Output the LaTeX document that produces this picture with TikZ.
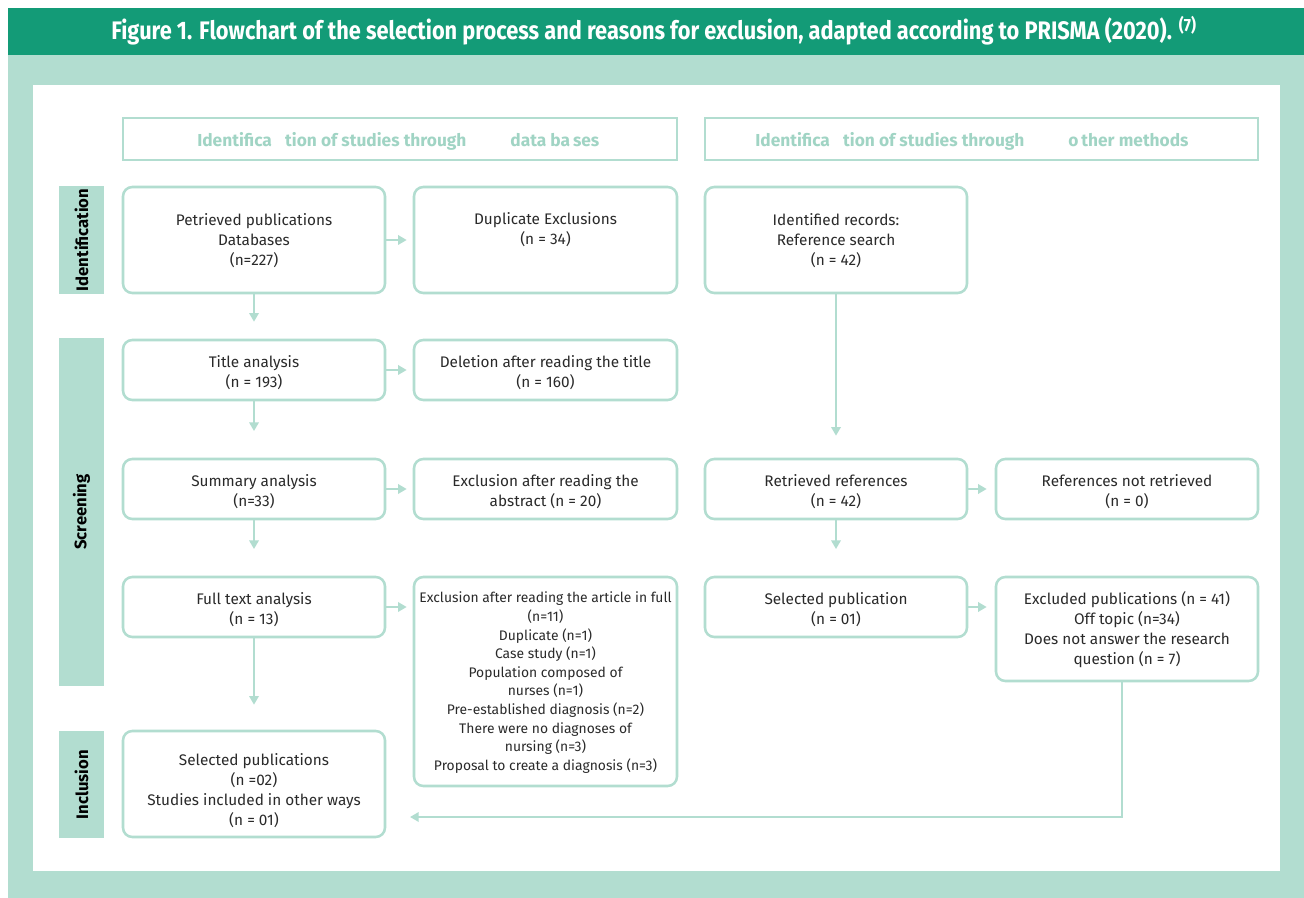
\documentclass[tikz,border=0pt]{standalone}
\usepackage{fontspec}
\setmainfont{Fira Sans}
\newfontfamily\titlefont[FakeStretch=0.86]{Fira Sans}
\usetikzlibrary{arrows.meta,fit,calc}
\definecolor{dkgreen}{HTML}{139B77}
\definecolor{ltgreen}{HTML}{B2DDD0}
\definecolor{hdtext}{HTML}{A0D4C4}
\definecolor{txt}{HTML}{2A2A2A}
\tikzset{
  box/.style={draw=ltgreen, line width=1.9pt, rounded corners=7pt, inner sep=0pt, fill=white},
  hdbox/.style={draw=ltgreen, line width=1.9pt, inner sep=0pt},
  hdtxt/.style={text=hdtext, font=\fontsize{13}{14}\selectfont\bfseries, anchor=west, inner sep=0pt},
  btext/.style={text=txt, align=center, font=\fontsize{11.5}{15}\selectfont, inner sep=0pt, yshift=-2.25pt},
  side/.style={fill=ltgreen, rotate=90, inner sep=0pt, font=\fontsize{12.5}{14}\selectfont\bfseries, text=black},
  arr/.style={draw=ltgreen, line width=1.9pt, -{Triangle[length=6.5pt,width=7pt]}},
}
\begin{document}
\begin{tikzpicture}[x=0.75pt,y=-0.75pt]
\useasboundingbox (0,0) rectangle (1304,898);
% background bands
\fill[ltgreen] (8,55) rectangle (1304,898);
\fill[dkgreen] (8,8) rectangle (1304,55);
\fill[white] (33,85) rectangle (1280,871);
\node[text=white, font=\titlefont\fontsize{19}{21}\selectfont\bfseries] (title) at (654,31)
  {Figure 1. Flowchart of the selection process and reasons for exclusion, adapted according to PRISMA (2020). \textsuperscript{(7)}};

% headers
\node[hdbox, fit={(123,118) (677,160)}] (hd1) {};
\node[hdtxt] (hd1t) at (197,141.5)
  {Identifica\hspace{10pt}tion of studies through\hspace{33pt}data ba\,ses};
\node[hdbox, fit={(705,118) (1258,160)}] (hd2) {};
\node[hdtxt] (hd2t) at (755,141.5)
  {Identifica\hspace{10pt}tion of studies through\hspace{33pt}o\,ther methods};

% side labels
\node[side, minimum width=81pt, minimum height=33.75pt] (s1) at (81.5,240) {Identification};
\node[side, minimum width=261pt, minimum height=33.75pt] (s2) at (81.5,512) {Screening};
\node[side, minimum width=80.25pt, minimum height=33.75pt] (s3) at (81.5,784.5) {Inclusion};

% row 1
\node[box, fit={(123,187) (385,293)}] (A) {};
\node[btext] (At) at ($(A.center)+(0,-2)$) {Petrieved publications\\Databases\\(n=227)};
\node[box, fit={(414,187) (677,293)}] (B) {};
\node[btext, anchor=north] (Bt) at ($(B.north)+(0,24)$) {Duplicate Exclusions\\(n = 34)};
\node[box, fit={(705,187) (967,293)}] (C) {};
\node[btext] (Ct) at ($(C.center)+(0,-2)$) {Identified records:\\Reference search\\(n = 42)};

% row 2
\node[box, fit={(123,340) (385,400)}] (D) {};
\node[btext] (Dt) at (D.center) {Title analysis\\(n = 193)};
\node[box, fit={(414,340) (677,400)}] (E) {};
\node[btext] (Et) at (E.center) {Deletion after reading the title\\(n = 160)};

% row 3
\node[box, fit={(123,459) (385,519)}] (G) {};
\node[btext] (Gt) at (G.center) {Summary analysis\\(n=33)};
\node[box, fit={(414,459) (677,519)}] (H) {};
\node[btext] (Ht) at (H.center) {Exclusion after reading the\\abstract (n = 20)};
\node[box, fit={(705,459) (967,519)}] (F) {};
\node[btext] (Ft) at (F.center) {Retrieved references\\(n = 42)};
\node[box, fit={(996,459) (1258,519)}] (I) {};
\node[btext] (It) at (I.center) {References not retrieved\\(n = 0)};

% row 4
\node[box, fit={(123,577) (385,637)}] (J) {};
\node[btext] (Jt) at (J.center) {Full text analysis\\(n = 13)};
\node[box, fit={(414,577) (677,786)}] (K) {};
\node[btext, anchor=north, font=\fontsize{10.4}{13.95}\selectfont] (Kt) at ($(K.north)+(0,13)$)
  {Exclusion after reading the article in full\\(n=11)\\Duplicate (n=1)\\Case study (n=1)\\Population composed of\\nurses (n=1)\\Pre-established diagnosis (n=2)\\There were no diagnoses of\\nursing (n=3)\\Proposal to create a diagnosis (n=3)};
\node[box, fit={(705,577) (967,637)}] (L) {};
\node[btext] (Lt) at (L.center) {Selected publication\\(n = 01)};
\node[box, fit={(996,577) (1258,681)}] (M) {};
\node[btext] (Mt) at ($(M.center)+(0,-2)$) {Excluded publications (n = 41)\\Off topic (n=34)\\Does not answer the research\\question (n = 7)};

% row 5
\node[box, fit={(123,731) (385,837)}] (N) {};
\node[btext] (Nt) at ($(N.center)+(0,4)$) {Selected publications\\(n =02)\\Studies included in other ways\\(n = 01)};

% arrows
\draw[arr, shorten >=4.5pt] (A) -- (B);
\draw[arr, shorten >=4.5pt] (D) -- (E);
\draw[arr, shorten >=4.5pt] (G) -- (H);
\draw[arr, shorten >=4.5pt] (J.east) -- (J.east -| K.west);
\draw[arr, shorten >=6pt] (F) -- (I);
\draw[arr, shorten >=6pt] (L.east) -- (L.east -| M.west);
\draw[arr, shorten >=12.75pt] (A) -- (D);
\draw[arr, shorten >=20pt] (D) -- (G);
\draw[arr, shorten >=20pt] (G) -- (J);
\draw[arr, shorten >=18.75pt] (J) -- (N);
\draw[arr, shorten >=16.5pt] (C) -- (F);
\draw[arr, shorten >=20pt] (F) -- (L);
\coordinate (nin) at (385,817);
\draw[arr, shorten >=18.75pt] ($(M.south)+(-5,0)$) |- (nin);
\end{tikzpicture}
\end{document}
